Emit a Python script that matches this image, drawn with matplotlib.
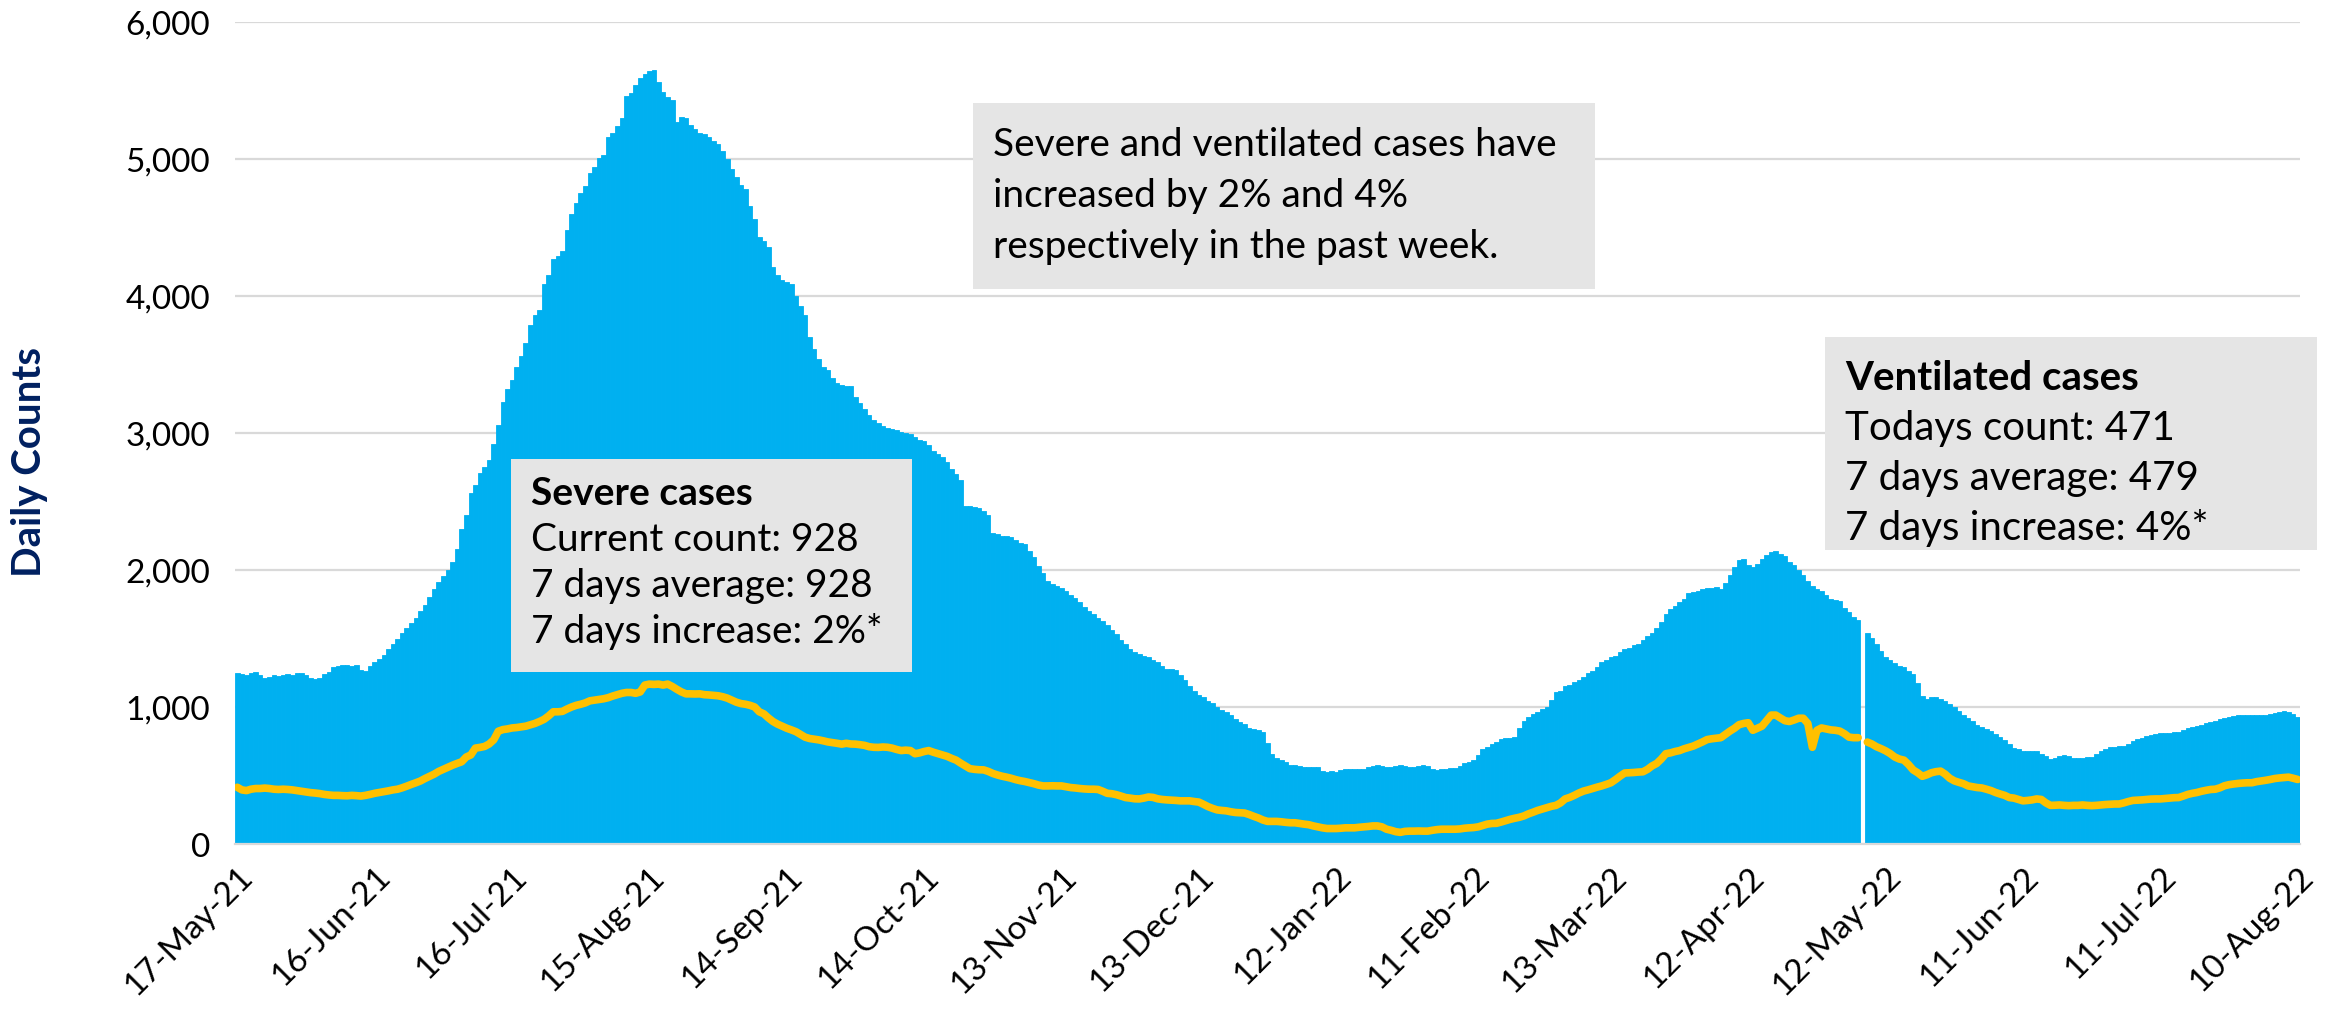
import numpy as np
import matplotlib
matplotlib.use("Agg")
import matplotlib.pyplot as plt
from matplotlib.patches import Rectangle

plt.rcParams['font.family'] = ['Lato', 'DejaVu Sans']

# ---------------- data (daily, 17-May-21 .. 10-Aug-22) ----------------
start_date = "2021-05-17"
tick_labels = ['17-May-21', '16-Jun-21', '16-Jul-21', '15-Aug-21', '14-Sep-21',
               '14-Oct-21', '13-Nov-21', '13-Dec-21', '12-Jan-22', '11-Feb-22',
               '13-Mar-22', '12-Apr-22', '12-May-22', '11-Jun-22', '11-Jul-22',
               '10-Aug-22']

nan = float('nan')

severe_cases = [
    1250, 1240, 1230, 1245, 1255, 1235, 1210, 1220, 1230, 1225,
    1235, 1240, 1230, 1245, 1250, 1235, 1215, 1205, 1215, 1240,
    1255, 1290, 1300, 1310, 1305, 1300, 1310, 1270, 1265, 1300,
    1330, 1350, 1380, 1420, 1460, 1500, 1540, 1575, 1610, 1650,
    1700, 1745, 1800, 1860, 1910, 1955, 2000, 2060, 2150, 2300,
    2400, 2565, 2620, 2705, 2750, 2800, 2920, 3060, 3225, 3320,
    3390, 3480, 3560, 3660, 3790, 3860, 3900, 4090, 4150, 4270,
    4290, 4330, 4480, 4600, 4680, 4750, 4800, 4900, 4940, 5010,
    5030, 5160, 5190, 5240, 5300, 5460, 5480, 5540, 5590, 5620,
    5640, 5650, 5560, 5490, 5450, 5430, 5270, 5310, 5300, 5250,
    5220, 5190, 5180, 5160, 5130, 5110, 5060, 5000, 4930, 4870,
    4810, 4780, 4660, 4560, 4430, 4400, 4360, 4210, 4150, 4120,
    4100, 4090, 4000, 3930, 3860, 3700, 3610, 3540, 3480, 3460,
    3400, 3365, 3350, 3345, 3340, 3260, 3220, 3175, 3130, 3095,
    3070, 3050, 3040, 3030, 3020, 3010, 3000, 2990, 2970, 2950,
    2940, 2910, 2870, 2850, 2825, 2790, 2740, 2700, 2660, 2470,
    2470, 2460, 2450, 2430, 2400, 2270, 2260, 2250, 2245, 2240,
    2220, 2200, 2190, 2140, 2095, 2030, 1975, 1920, 1900, 1880,
    1865, 1850, 1820, 1795, 1770, 1730, 1700, 1680, 1650, 1625,
    1600, 1560, 1530, 1490, 1460, 1420, 1400, 1385, 1375, 1365,
    1340, 1327, 1300, 1280, 1275, 1270, 1230, 1200, 1150, 1120,
    1090, 1070, 1045, 1030, 1000, 980, 960, 940, 910, 890,
    875, 850, 840, 830, 820, 740, 660, 630, 610, 595,
    580, 575, 570, 565, 565, 560, 565, 530, 525, 530,
    525, 540, 545, 550, 545, 550, 550, 560, 570, 575,
    570, 565, 565, 570, 575, 570, 565, 565, 570, 575,
    570, 545, 540, 545, 550, 555, 555, 570, 590, 600,
    612, 650, 695, 710, 729, 745, 770, 776, 776, 780,
    847, 900, 925, 950, 965, 985, 998, 1050, 1106, 1120,
    1150, 1160, 1185, 1200, 1220, 1245, 1260, 1290, 1325, 1340,
    1365, 1370, 1400, 1421, 1430, 1450, 1460, 1490, 1520, 1540,
    1576, 1624, 1680, 1718, 1740, 1765, 1790, 1830, 1840, 1850,
    1859, 1865, 1870, 1873, 1860, 1906, 1960, 2020, 2071, 2080,
    2040, 2020, 2047, 2080, 2108, 2130, 2141, 2120, 2100, 2060,
    2040, 2000, 1960, 1920, 1882, 1860, 1845, 1820, 1788, 1780,
    1774, 1720, 1690, 1656, 1638, nan, 1540, 1506, 1460, 1412,
    1365, 1340, 1318, 1300, 1294, 1260, 1240, 1176, 1080, 1059,
    1070, 1073, 1055, 1045, 1020, 998, 970, 941, 920, 900,
    871, 855, 840, 824, 800, 780, 762, 730, 700, 690,
    682, 680, 682, 682, 660, 640, 621, 625, 640, 650,
    640, 630, 626, 630, 632, 635, 660, 682, 695, 706,
    708, 712, 715, 730, 753, 765, 775, 786, 795, 800,
    809, 810, 812, 814, 814, 830, 845, 856, 860, 870,
    885, 894, 900, 910, 920, 927, 932, 938, 941, 941,
    945, 940, 941, 945, 950, 958, 965, 968, 965, 950,
    928,
]

ventilated_cases = [
    414, 395, 390, 400, 405, 405, 408, 405, 400, 398,
    400, 398, 395, 390, 385, 380, 375, 372, 368, 362,
    358, 355, 355, 353, 352, 355, 353, 350, 355, 362,
    370, 376, 382, 388, 395, 400, 410, 422, 435, 447,
    460, 478, 494, 510, 530, 545, 560, 575, 588, 600,
    635, 650, 700, 705, 712, 730, 760, 823, 835, 840,
    847, 850, 855, 860, 870, 880, 894, 910, 935, 965,
    965, 968, 985, 1000, 1012, 1020, 1030, 1045, 1050, 1055,
    1060, 1068, 1080, 1090, 1100, 1106, 1106, 1100, 1110, 1160,
    1167, 1165, 1167, 1160, 1167, 1150, 1129, 1110, 1096, 1096,
    1095, 1096, 1090, 1088, 1085, 1082, 1075, 1065, 1050, 1035,
    1025, 1020, 1012, 1000, 965, 950, 920, 894, 875, 860,
    845, 833, 820, 800, 780, 770, 765, 760, 753, 745,
    740, 735, 729, 735, 730, 729, 725, 720, 710, 706,
    705, 708, 706, 700, 690, 682, 685, 682, 659, 665,
    675, 682, 670, 660, 650, 640, 625, 612, 590, 570,
    550, 545, 542, 541, 530, 515, 504, 495, 488, 480,
    470, 462, 456, 448, 440, 430, 424, 424, 425, 424,
    424, 418, 412, 409, 405, 402, 400, 400, 398, 385,
    370, 367, 360, 350, 339, 335, 330, 329, 335, 343,
    340, 330, 325, 322, 320, 318, 315, 315, 315, 310,
    306, 290, 273, 260, 249, 245, 242, 235, 230, 228,
    226, 215, 202, 190, 175, 165, 165, 165, 162, 158,
    155, 155, 150, 145, 141, 132, 125, 118, 113, 113,
    113, 115, 118, 118, 118, 122, 125, 128, 132, 132,
    125, 108, 100, 90, 85, 92, 94, 94, 95, 94,
    94, 100, 105, 108, 108, 108, 108, 110, 115, 118,
    120, 125, 135, 145, 150, 151, 160, 170, 180, 188,
    195, 205, 220, 232, 245, 255, 265, 275, 282, 300,
    329, 340, 355, 372, 386, 395, 405, 415, 424, 435,
    447, 470, 495, 518, 520, 522, 525, 527, 545, 570,
    588, 620, 659, 665, 675, 682, 695, 705, 715, 730,
    745, 762, 768, 772, 776, 800, 824, 845, 871, 880,
    885, 830, 845, 860, 900, 941, 941, 920, 900, 894,
    905, 918, 918, 880, 706, 830, 847, 840, 833, 830,
    824, 805, 780, 776, 776, nan, 744, 730, 710, 696,
    680, 660, 635, 620, 612, 580, 541, 520, 494, 505,
    520, 528, 532, 510, 480, 461, 450, 440, 424, 418,
    412, 409, 400, 390, 376, 365, 355, 339, 335, 325,
    315, 318, 322, 329, 325, 300, 282, 283, 285, 282,
    280, 282, 282, 285, 282, 280, 282, 285, 288, 290,
    292, 292, 300, 310, 318, 320, 322, 325, 328, 329,
    329, 332, 335, 338, 339, 350, 362, 370, 376, 385,
    392, 398, 400, 410, 425, 433, 438, 442, 445, 447,
    447, 455, 460, 465, 471, 478, 482, 485, 488, 480,
    471,
]

y_ticks = [0, 1000, 2000, 3000, 4000, 5000, 6000]
y_label = "Daily Counts"

note_main = ["Severe and ventilated cases have",
             "increased by 2% and 4%",
             "respectively in the past week."]
note_severe = ["Severe cases", "Current count: 928",
               "7 days average: 928", "7 days increase: 2%*"]
note_vent = ["Ventilated cases", "Todays count: 471",
             "7 days average: 479", "7 days increase: 4%*"]

# ---------------- figure ----------------
W, H = 2333, 1012
fig = plt.figure(figsize=(W / 100, H / 100), dpi=100)
fig.patch.set_facecolor('white')

def fx(px):
    return px / W

def fy(py):
    return 1 - py / H

ax = fig.add_axes([fx(235), fy(845), fx(2300) - fx(235), fy(23) - fy(845)])

days = np.arange(len(severe_cases))
sev = np.array(severe_cases, dtype=float)
ven = np.array(ventilated_cases, dtype=float)

BLUE = '#00B0F0'
YELLOW = '#FFC000'

ax.bar(days, sev, width=1.0, color=BLUE, edgecolor=BLUE, linewidth=0.6, zorder=2)
ax.plot(days, ven, color=YELLOW, lw=5.5, solid_capstyle='round',
        solid_joinstyle='round', zorder=3)

ax.set_xlim(-0.5, len(days) - 0.5)
ax.set_ylim(0, 6000)
ax.set_yticks(y_ticks)
ax.set_yticklabels([f"{v:,}" for v in y_ticks])
ax.set_xticks(np.arange(0, len(days), 30))
ax.set_xticklabels(tick_labels, rotation=45, ha='right', va='top',
                   rotation_mode='anchor')

ax.grid(axis='y', color='#D9D9D9', lw=1.6, zorder=0)
ax.set_axisbelow(True)
for s in ['top', 'right', 'left']:
    ax.spines[s].set_visible(False)
ax.spines['bottom'].set_color('#D9D9D9')
ax.spines['bottom'].set_linewidth(1.6)
ax.tick_params(axis='both', length=0, colors='black')
ax.tick_params(axis='y', pad=18, labelsize=24)
ax.tick_params(axis='x', pad=12, labelsize=24)

fig.text(fx(30), fy(462), y_label, rotation=90, ha='center', va='center',
         fontsize=29, fontweight='bold', color='#002060')

# ---------------- annotation boxes ----------------
GREY = '#E5E5E5'

def box(x0, y0, x1, y1):
    fig.patches.append(Rectangle((fx(x0), fy(y1)), fx(x1) - fx(x0), fy(y0) - fy(y1),
                                 transform=fig.transFigure, facecolor=GREY,
                                 edgecolor='none', zorder=5))

box(973, 104, 1595, 290)
for i, line in enumerate(note_main):
    fig.text(fx(993), fy(156 + i * 51), line, fontsize=28, va='baseline',
             ha='left', color='black', zorder=6)

box(511, 460, 912, 673)
for i, line in enumerate(note_severe):
    fig.text(fx(531), fy(505 + i * 46), line, fontsize=28, va='baseline',
             ha='left', color='black', zorder=6,
             fontweight='bold' if i == 0 else 'normal')

box(1825, 338, 2317, 551)
for i, line in enumerate(note_vent):
    fig.text(fx(1845), fy(390 + i * 50), line, fontsize=29, va='baseline',
             ha='left', color='black', zorder=6,
             fontweight='bold' if i == 0 else 'normal')

fig.savefig('out.png', dpi=100)
